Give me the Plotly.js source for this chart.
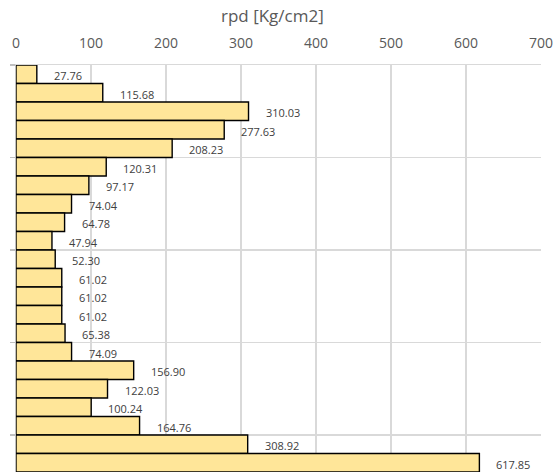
<!DOCTYPE html>
<html>
<head>
<meta charset="utf-8">
<script src="https://cdn.plot.ly/plotly-3.0.1.min.js"></script>
<style>html,body{margin:0;padding:0;background:#fff;overflow:hidden}</style>
</head>
<body>
<div id="chart" style="width:557px;height:472px"></div>
<script>
// Data (top to bottom)
const positions = [0.5,1.5,2.5,3.5,4.5,5.5,6.5,7.5,8.5,9.5,10.5,11.5,12.5,13.5,14.5,15.5,16.5,17.5,18.5,19.5,20.5,21.5];
const rpdValues = [27.76,115.68,310.03,277.63,208.23,120.31,97.17,74.04,64.78,47.94,52.30,61.02,61.02,61.02,65.38,74.09,156.90,122.03,100.24,164.76,308.92,617.85];
const xTickValues = [0,100,200,300,400,500,600,700];
const chartTitle = 'rpd [Kg/cm2]';

const trace = {
  type: 'bar',
  orientation: 'h',
  x: rpdValues,
  y: positions,
  width: 1,
  marker: {color: '#FFE699', line: {color: '#000000', width: 1.4}},
  hoverinfo: 'x'
};

const annotations = rpdValues.map((v, i) => ({
  x: v, y: positions[i], xref: 'x', yref: 'y',
  text: v.toFixed(2), showarrow: false,
  xanchor: 'left', yanchor: 'middle', xshift: 15, yshift: -1.5,
  font: {family: 'Open Sans, sans-serif', size: 11, color: '#404040'}
}));

const layout = {
  width: 557, height: 472,
  margin: {l: 16, r: 16, t: 65, b: 0, pad: 0},
  paper_bgcolor: '#ffffff', plot_bgcolor: '#ffffff',
  showlegend: false,
  bargap: 0,
  title: {
    text: chartTitle, x: 272/557, xanchor: 'center', xref: 'paper',
    y: 1 - 16/472, yanchor: 'middle', yref: 'container',
    font: {family: 'Open Sans, sans-serif', size: 17, color: '#595959'}
  },
  xaxis: {
    side: 'top', range: [0, 700], tickvals: xTickValues,
    ticktext: xTickValues.map(String),
    showgrid: true, gridcolor: '#d9d9d9', gridwidth: 1.3,
    zeroline: false, showline: true, linecolor: '#d9d9d9', linewidth: 1.3, ticks: '',
    ticklabelstandoff: 10,
    tickfont: {family: 'Open Sans, sans-serif', size: 14, color: '#595959'},
    fixedrange: true
  },
  yaxis: {
    range: [22, 0], tickvals: [0,5,10,15,20], showticklabels: false,
    showgrid: true, gridcolor: '#d9d9d9', gridwidth: 1.3,
    zeroline: false, showline: true, linecolor: '#bfbfbf', linewidth: 1.3,
    ticks: 'outside', ticklen: 5, tickcolor: '#bfbfbf', tickwidth: 1.3,
    fixedrange: true
  },
  annotations: annotations
};

Plotly.newPlot('chart', [trace], layout, {displayModeBar: false, staticPlot: true});
</script>
</body>
</html>
